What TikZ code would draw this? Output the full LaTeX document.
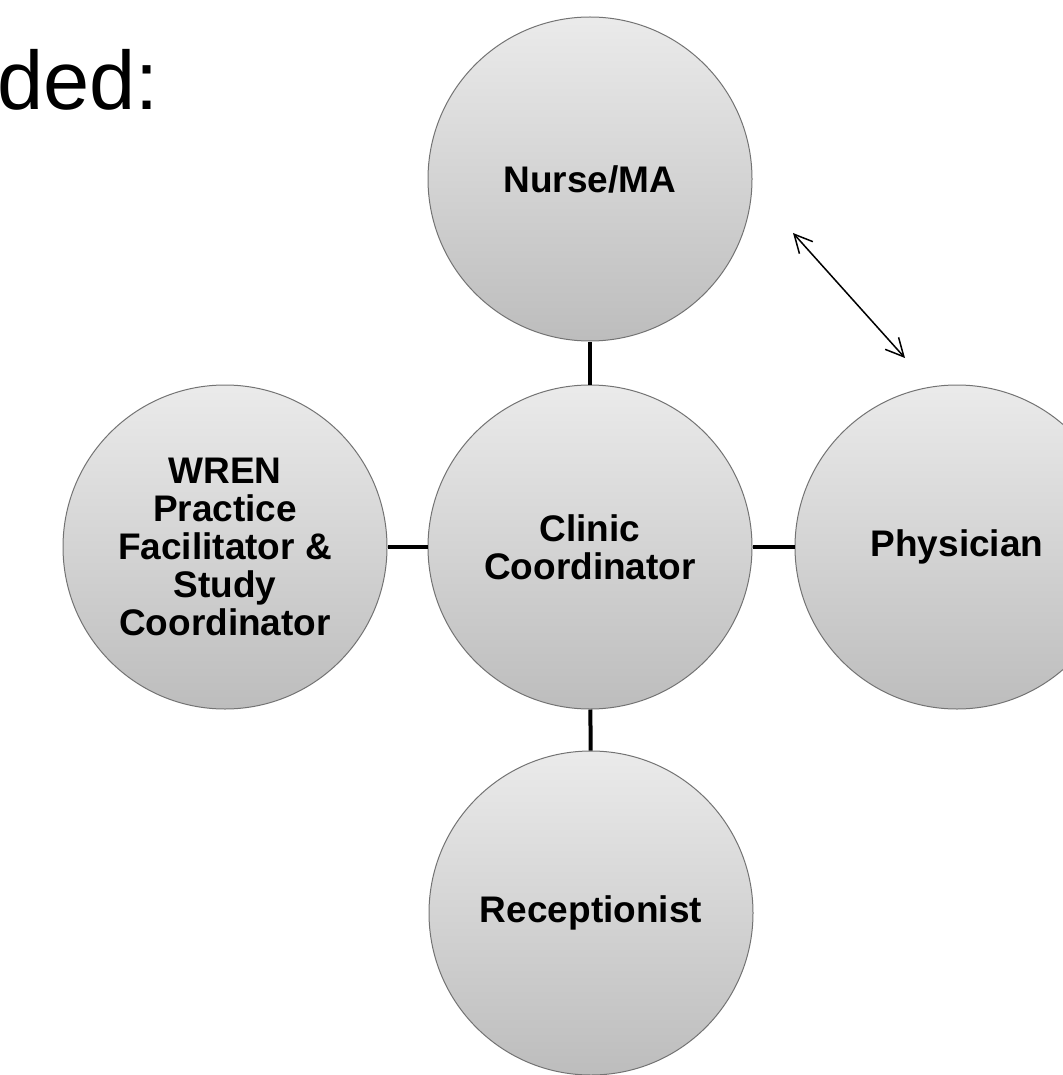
\documentclass[tikz,border=0pt]{standalone}
\usepackage{fontspec}
\setmainfont{Liberation Sans}
\usetikzlibrary{arrows.meta}

\tikzset{
  role/.style={circle, draw=black!55, line width=0.5pt, top color=black!8, bottom color=black!26,
    minimum size=162pt, inner sep=0pt, align=center, font=\bfseries\fontsize{18.5}{19}\selectfont},
  link/.style={line width=2pt},
  twoway/.style={line width=0.75pt, {Straight Barb[length=9pt,width=9pt]}-{Straight Barb[length=9pt,width=9pt]}}
}

\begin{document}
\begin{tikzpicture}[x=0.5pt,y=-0.5pt]
\useasboundingbox (0,0) rectangle (1062,1075);
\node (head) [anchor=base west, inner sep=0pt, font=\fontsize{41.5}{41.5}\selectfont] at (-3,110) {ded:};
%Circles
\node (nurse) [role] at (590,179) {Nurse/MA};
\node (clinic) [role] at (590,547) {Clinic\\Coordinator};
\node (wren) [role] at (225,547) {WREN\\Practice\\Facilitator \&\\Study\\Coordinator};
\node (phys) [role] at (957,547) {Physician};
\node (recep) [role] at (591,913) {Receptionist};
%Lines
\draw [link] (nurse) -- (clinic);
\draw [link] (wren) -- (clinic);
\draw [link] (clinic) -- (phys);
\draw [link] (clinic) -- (recep);
\coordinate (a1) at (793,233);
\coordinate (a2) at (905,358);
\draw [twoway] (a1) -- (a2);
\end{tikzpicture}
\end{document}
